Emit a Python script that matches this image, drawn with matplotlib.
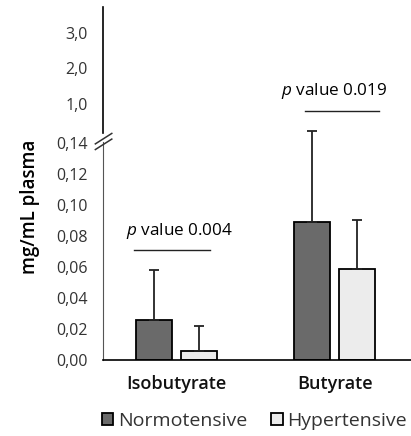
import matplotlib
matplotlib.use('Agg')
import matplotlib.pyplot as plt
import numpy as np

plt.rcParams['font.family'] = ['Open Sans', 'DejaVu Sans']
plt.rcParams['mathtext.fontset'] = 'custom'
plt.rcParams['mathtext.it'] = 'Open Sans:italic'
plt.rcParams['mathtext.rm'] = 'Open Sans'

# data
categories = ['Isobutyrate', 'Butyrate']
normo = [0.026, 0.089]
normo_err = [0.032, 0.059]
hyper = [0.006, 0.059]
hyper_err = [0.016, 0.031]
lower_ticks = [0.00, 0.02, 0.04, 0.06, 0.08, 0.10, 0.12, 0.14]
upper_ticks = [1.0, 2.0, 3.0]
pvals = ['0.004', '0.019']

fig = plt.figure(figsize=(4.11, 4.36), dpi=100)
ax = fig.add_axes([0.2506, 0.1743, 0.75, 0.5])
ax2 = fig.add_axes([0.2506, 0.695, 0.75, 0.289])

x = np.arange(len(categories))
w = 0.23
off = 0.142
b1 = ax.bar(x - off, normo, w, color='#6a6a6a', edgecolor='black', linewidth=1.3, label='Normotensive')
b2 = ax.bar(x + off, hyper, w, color='#ececec', edgecolor='black', linewidth=1.3, label='Hypertensive')
ax.errorbar(x - off, normo, yerr=[np.zeros(2), normo_err], fmt='none', ecolor='#222222',
            elinewidth=1.3, capsize=3.5, capthick=1.3, clip_on=False)
ax.errorbar(x + off, hyper, yerr=[np.zeros(2), hyper_err], fmt='none', ecolor='#222222',
            elinewidth=1.3, capsize=3.5, capthick=1.3, clip_on=False)

ax.set_xlim(-0.466, 1.485)
ax.set_ylim(0, 0.1406)
ax.set_yticks(lower_ticks)
ax.set_yticklabels([f'{t:.2f}'.replace('.', ',') for t in lower_ticks], fontsize=11.5, color='#333333')
ax.set_xticks(x)
ax.set_xticklabels(categories, fontsize=13, fontweight='semibold', color='#111111')
ax.tick_params(axis='y', length=0, pad=11)
ax.tick_params(axis='x', length=0, pad=11)
for s in ['top', 'right']:
    ax.spines[s].set_visible(False)
ax.spines['left'].set_color('#555555')
ax.spines['bottom'].set_color('black')
ax.spines['bottom'].set_linewidth(1.2)
ax.set_ylabel('mg/mL plasma', fontsize=13.5, fontweight='semibold')
ax.yaxis.set_label_coords(-0.205, 0.705)

# upper part of the broken axis
ax2.set_ylim(0.18, 3.73)
ax2.set_xlim(-0.466, 1.485)
ax2.set_yticks(upper_ticks)
ax2.set_yticklabels([f'{t:.1f}'.replace('.', ',') for t in upper_ticks], fontsize=11.5, color='#333333')
ax2.tick_params(axis='y', length=0, pad=11)
ax2.set_xticks([])
for s in ['top', 'right', 'bottom']:
    ax2.spines[s].set_visible(False)
ax2.spines['left'].set_linewidth(1.2)
ax2.patch.set_alpha(0)

# break marks
for yy in [0.682, 0.669]:
    fig.add_artist(plt.Line2D([0.232, 0.272], [yy - 0.012, yy + 0.012], color='#333333', lw=1.1,
                              transform=fig.transFigure))

# p-value annotations
ax.plot([x[0] - 0.27, x[0] + 0.21], [0.071, 0.071], color='#222222', lw=1)
ax.text(x[0] + 0.02, 0.083, '$\\it{p}$ value ' + pvals[0], ha='center', va='center', fontsize=12.3)
ax2.plot([x[1] - 0.19, x[1] + 0.28], [0.81, 0.81], color='#222222', lw=1)
ax2.text(x[1] - 0.005, 1.37, '$\\it{p}$ value ' + pvals[1], ha='center', va='center', fontsize=12.3)

fig.legend(handles=[b1, b2], loc='center', bbox_to_anchor=(0.619, 0.035), ncol=2, frameon=False,
           fontsize=14, handlelength=0.6, handleheight=0.6, handletextpad=0.25, columnspacing=1.2)
for t in fig.legends[0].get_texts():
    t.set_color('#333333')

fig.savefig('out.png', dpi=100)
